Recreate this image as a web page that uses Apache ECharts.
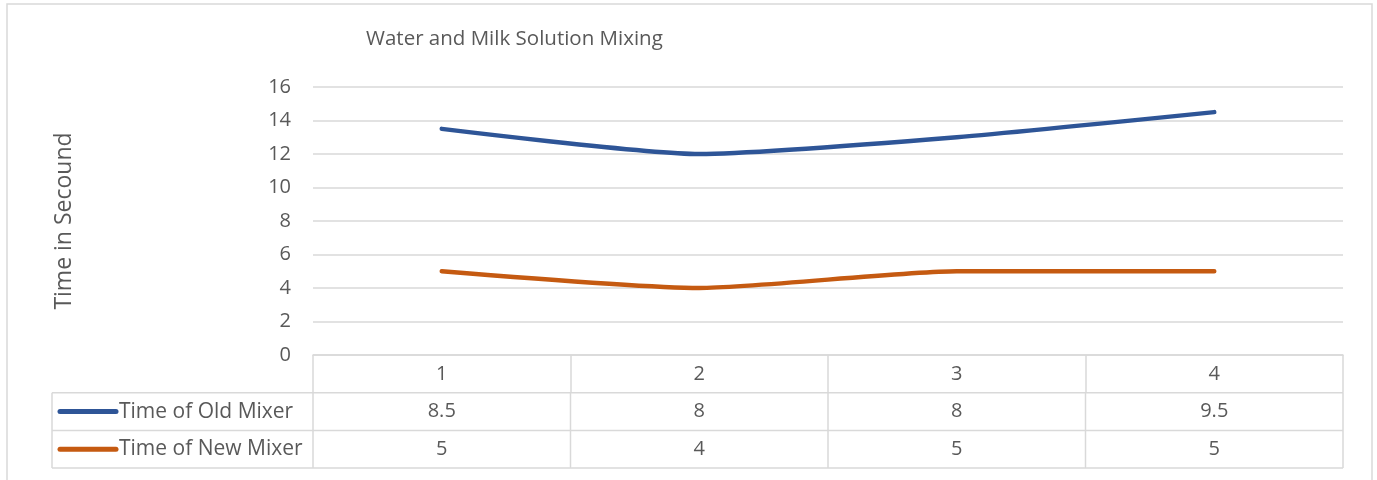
<!DOCTYPE html>
<html><head><meta charset="utf-8">
<script src="https://cdn.jsdelivr.net/npm/echarts@6/dist/echarts.min.js"></script>
<style>html,body{margin:0;padding:0;background:#fff}#c{width:1377px;height:480px}</style>
</head><body><div id="c"></div>
<script>
const categories = ['1', '2', '3', '4'];
const seriesNames = ['Time of Old Mixer', 'Time of New Mixer'];
// values as drawn by the plotted lines
const oldMixerPlotted = [13.5, 12, 13, 14.5];
const newMixerPlotted = [5, 4, 5, 5];
// values as printed in the data table
const oldMixerTable = ['8.5', '8', '8', '9.5'];
const newMixerTable = ['5', '4', '5', '5'];
const yTicks = [0, 2, 4, 6, 8, 10, 12, 14, 16];

const FONT = 'Open Sans';
const TXT = '#595959';
const GRID = '#d9d9d9';
const COLORS = ['#2E5597', '#C55A11'];
const G = {left: 313, right: 34, top: 87, bottom: 125};
const ROW = 37.7;
const FS = 20;

const chart = echarts.init(document.getElementById('c'));
chart.setOption({
  animation: false,
  title: {text: 'Water and Milk Solution Mixing', left: 361, top: 24,
    textStyle: {fontFamily: FONT, fontSize: 20.5, fontWeight: 'normal', color: TXT}},
  grid: {left: G.left, right: G.right, top: G.top, bottom: G.bottom},
  xAxis: {type: 'category', data: categories, boundaryGap: true,
    axisLine: {show: true, lineStyle: {color: GRID, width: 1.5}},
    axisTick: {show: true, length: ROW, lineStyle: {color: GRID, width: 1.5}},
    axisLabel: {margin: 9, fontFamily: FONT, fontSize: FS, color: TXT}},
  yAxis: {type: 'value', min: yTicks[0], max: yTicks[yTicks.length - 1], interval: 2,
    name: 'Time in Secound', nameLocation: 'middle', nameGap: 237,
    nameTextStyle: {fontFamily: FONT, fontSize: 23, color: TXT},
    axisLine: {show: false}, axisTick: {show: false},
    axisLabel: {margin: 22, fontFamily: FONT, fontSize: FS, color: TXT},
    splitLine: {lineStyle: {color: GRID, width: 1.5}}},
  series: [
    {name: seriesNames[0], type: 'line', data: oldMixerPlotted, smooth: 0.2, symbol: 'none',
      lineStyle: {color: COLORS[0], width: 4.5, cap: 'round'}},
    {name: seriesNames[1], type: 'line', data: newMixerPlotted, smooth: 0.2, symbol: 'none',
      lineStyle: {color: COLORS[1], width: 4.5, cap: 'round'}}
  ]
});

// Data table below the plot, positioned from the axis scale
const W = 1377, H = 480;
const x0 = G.left, x1 = W - G.right, yTop = H - G.bottom;
const centers = categories.map(c => chart.convertToPixel({xAxisIndex: 0}, c));
const half = (centers[1] - centers[0]) / 2;
const bounds = [centers[0] - half].concat(centers.map(c => c + half));
const legendLeft = 52;
const rows = [oldMixerTable, newMixerTable];
const els = [];
const ls = {stroke: GRID, lineWidth: 1.5};
// outer chart border
els.push({type: 'rect', shape: {x: 7, y: 4, width: 1365, height: 490}, style: {fill: null, stroke: GRID, lineWidth: 1.5}, silent: true});
for (let r = 0; r <= rows.length; r++) {
  const y = yTop + ROW * (r + 1);
  els.push({type: 'line', shape: {x1: legendLeft, y1: y, x2: x1, y2: y}, style: ls});
}
const yR0 = yTop + ROW, yR1 = yTop + ROW * (rows.length + 1);
els.push({type: 'line', shape: {x1: legendLeft, y1: yR0, x2: legendLeft, y2: yR1}, style: ls});
bounds.forEach(b => els.push({type: 'line', shape: {x1: b, y1: yR0, x2: b, y2: yR1}, style: ls}));
rows.forEach((vals, r) => {
  const yc = yTop + ROW * (r + 1.5);
  els.push({type: 'line', shape: {x1: legendLeft + 8, y1: yc, x2: legendLeft + 64, y2: yc},
    style: {stroke: COLORS[r], lineWidth: 5, lineCap: 'round'}});
  els.push({type: 'text', x: legendLeft + 67, y: yc, style: {text: seriesNames[r], fontFamily: FONT, fontSize: 21,
    fill: TXT, verticalAlign: 'middle', align: 'left'}});
  vals.forEach((v, i) => els.push({type: 'text', x: centers[i], y: yc, style: {text: v, fontFamily: FONT,
    fontSize: FS, fill: TXT, align: 'center', verticalAlign: 'middle'}}));
});
chart.setOption({graphic: els});
</script></body></html>
